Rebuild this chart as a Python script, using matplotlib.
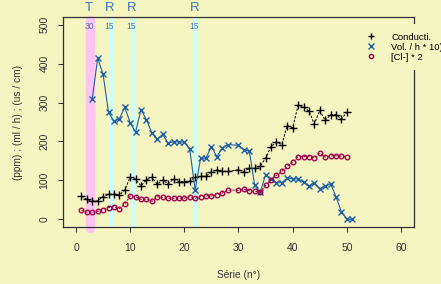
import numpy as np
import matplotlib
matplotlib.use('Agg')
import matplotlib.pyplot as plt
from matplotlib.lines import Line2D
from matplotlib.transforms import blended_transform_factory

plt.rcParams['font.family'] = ['Liberation Sans', 'DejaVu Sans']

bg = '#f5f5c2'

# series numbers (n° 29 is absent)
serie = [i for i in range(1, 51) if i != 29]
serie_vol = [i for i in range(3, 52) if i != 29]

conducti = [60, 51, 47, 47, 58, 64, 64, 62, 75, 108, 103, 86, 101, 108, 90, 101, 91, 103,
            97, 97, 98, 108, 110, 110, 122, 127, 123, 123, 127, 122, 131, 131, 136, 157,
            187, 198, 192, 241, 235, 293, 289, 278, 245, 280, 254, 269, 269, 258, 275]
vol_h10 = [310, 414, 373, 275, 252, 258, 288, 248, 224, 282, 256, 222, 206, 218, 196, 199,
           199, 198, 180, 75, 157, 157, 187, 161, 183, 192, 190, 179, 175, 87, 69, 114,
           103, 94, 94, 106, 104, 104, 96, 85, 94, 79, 85, 91, 58, 19, 0, 0]
chlore2 = [23, 18, 18, 20, 25, 30, 32, 27, 39, 60, 58, 51, 51, 46, 58, 56, 54, 54, 54, 54,
           58, 54, 58, 60, 60, 63, 67, 75, 74, 77, 73, 72, 70, 87, 101, 113, 123, 136, 146,
           161, 161, 161, 158, 170, 160, 163, 163, 162, 161]

# interventions
band_x = [2.6, 6.4, 10.45, 22.05]
band_kind = ['T', 'R', 'R', 'R']
band_val = ['30', '15', '15', '15']

fig = plt.figure(figsize=(4.41, 2.84), dpi=100, facecolor=bg)
ax = fig.add_axes([63/441, 1-227/284, 351/441, 210/284])
ax.set_facecolor(bg)
ax.set_xlim(-2.4, 62.4)
ax.set_ylim(-20, 520)

tr = blended_transform_factory(ax.transData, ax.transAxes)
for x, k, v in zip(band_x, band_kind, band_val):
    if k == 'T':
        ax.plot([x, x], [-0.005, 0.987], transform=tr, color='#ffc4f0', lw=6.8,
                solid_capstyle='round', clip_on=False, zorder=1)
    else:
        ax.plot([x, x], [0, 1], transform=tr, color='#c8ffff', lw=2.9,
                solid_capstyle='butt', clip_on=False, zorder=1)
    ax.text(x - 0.2, 1.041, k, transform=tr, ha='center', va='center', fontsize=9.5,
            color='#3a78b5', clip_on=False)
    ax.text(x - 0.2, 0.954, v, transform=tr, ha='center', va='center', fontsize=6.2,
            color='#4a7ab5', clip_on=False)

ax.plot(serie, conducti, color='k', lw=0.7, ls=(0, (2.5, 1.5)), marker='+', ms=5.5,
        mew=1.0, zorder=3)
ax.plot(serie_vol, vol_h10, color='#1f5fa5', lw=0.8, marker='x', ms=4.3, mew=1.0,
        zorder=3)
ax.plot(serie, chlore2, color='#a3004f', lw=0.7, ls=(0, (2.5, 1.5)), marker='o', ms=3.3,
        mew=1.0, mfc='none', zorder=3)

ax.set_xticks(range(0, 61, 10))
ax.set_yticks(range(0, 501, 100))
for s in ax.spines.values():
    s.set_color('#333333')
    s.set_linewidth(0.9)
ax.tick_params(axis='both', direction='out', length=3.6, width=0.75, color='#333333',
               labelsize=7.5, labelcolor='#333333')
ax.tick_params(axis='x', pad=8)
ax.tick_params(axis='y', pad=6, labelrotation=90)
for lab in ax.get_yticklabels():
    lab.set_va('center')

fig.text(238.5/441, 1-275/284, 'Série (n°)', ha='center', va='center', fontsize=7.3,
         color='#333333')
fig.text(18/441, 1-122/284, '(ppm) ; (ml / h) ; (us / cm)', rotation=90, ha='center',
         va='center', fontsize=7.3, color='#333333')

handles = [Line2D([], [], ls='none', marker='+', color='k', ms=4.3, mew=1.0),
           Line2D([], [], ls='none', marker='x', color='#1f5fa5', ms=3.7, mew=1.0),
           Line2D([], [], ls='none', marker='o', color='#a3004f', ms=3.0, mew=1.0,
                  mfc='none')]
leg = ax.legend(handles, ['Conducti.', 'Vol. / h * 10)', '[Cl-] * 2'],
                loc='upper left', bbox_to_anchor=(358/441, 1-24/284),
                bbox_transform=fig.transFigure, fontsize=6.8, handlelength=1.0,
                handletextpad=1.6, labelspacing=0.12, borderpad=0.9, borderaxespad=0,
                frameon=True, fancybox=False, facecolor=bg, edgecolor='none',
                framealpha=1)
leg.set_clip_on(False)
leg.set_zorder(5)

fig.savefig('out.png', dpi=100, facecolor=bg)
